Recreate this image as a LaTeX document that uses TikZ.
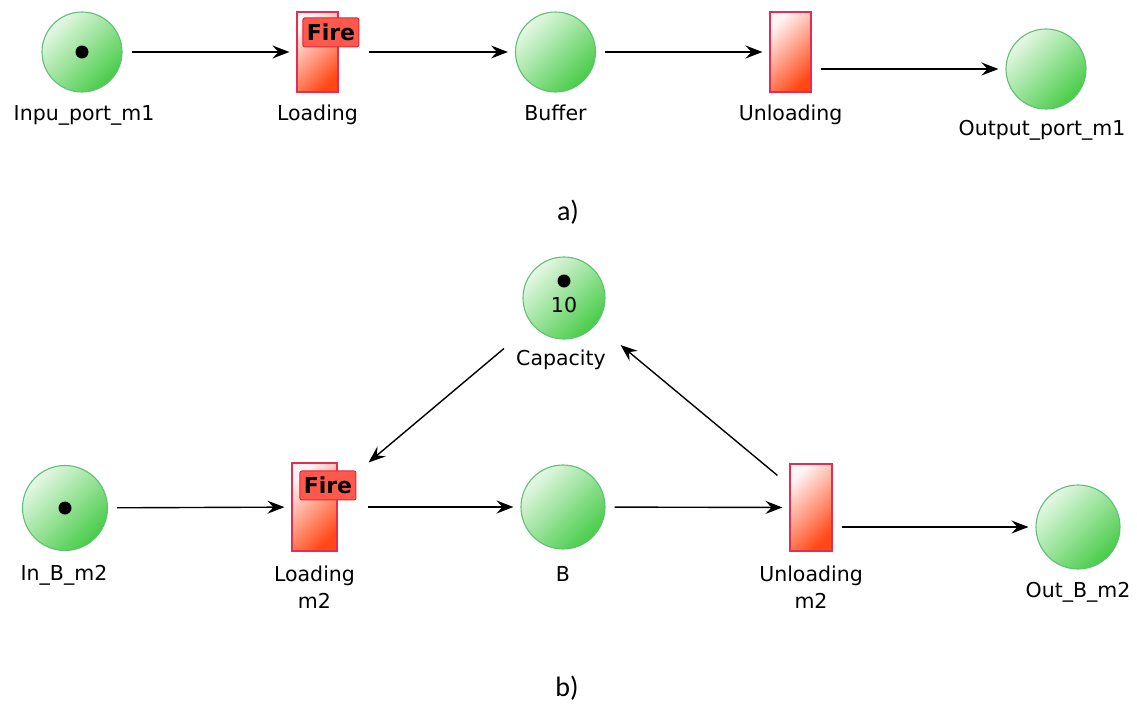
\documentclass[tikz,border=0pt]{standalone}
\usepackage{fontspec}
\setmainfont{DejaVu Sans}
\newfontfamily\tagfont{Carlito}
\usetikzlibrary{arrows.meta}
\usetikzlibrary{calc}

\definecolor{placelite}{RGB}{230,248,230}
\definecolor{placedark}{RGB}{72,204,72}
\definecolor{placeedge}{RGB}{95,192,118}
\definecolor{translite}{RGB}{255,244,244}
\definecolor{transdark}{RGB}{255,72,22}
\definecolor{transedge}{RGB}{228,45,85}
\definecolor{firefill}{RGB}{255,88,76}
\definecolor{fireedge}{RGB}{222,40,62}

\tikzset{
  place/.style={shape=circle, draw=placeedge, line width=1.1pt, top color=placelite, bottom color=placedark, shading angle=45, inner sep=0pt},
  trans/.style={shape=rectangle, draw=transedge, line width=1.1pt, top color=translite, bottom color=transdark, shading angle=45, inner sep=0pt},
  firebox/.style={shape=rectangle, draw=fireedge, fill=firefill, line width=1pt, rounded corners=2pt, minimum width=56pt, minimum height=29pt, inner sep=0pt, anchor=north west, font=\fontsize{22}{26}\selectfont\bfseries},
  token/.style={shape=circle, fill=black, inner sep=0pt, minimum size=13pt},
  lbl/.style={font=\fontsize{20.5}{27}\selectfont, inner sep=0pt, anchor=base, align=center},
  tag/.style={font=\tagfont\fontsize{28}{32}\selectfont, inner sep=0pt},
  arc/.style={-{Stealth[length=17pt,width=13pt,inset=6pt]}, line width=1.4pt, shorten <=9pt, shorten >=7pt}
}

% name, x, y, size, label x, label y, label
\newcommand{\pnplace}[7]{\node[place, minimum size=#4] (#1) at (#2,#3) {};
  \node[lbl] (#1lbl) at (#5,#6) {#7};}
% name, x, y, width, height, label y, label
\newcommand{\pntrans}[7]{\node[trans, minimum width=#4, minimum height=#5] (#1) at (#2,#3) {};
  \node[lbl] (#1lbl) at (#2,#6) {#7};}

\begin{document}
\begin{tikzpicture}[x=1pt, y=-1pt]
        \useasboundingbox (0,0) rectangle (1137,715);

        % net a
        \pnplace{in1}{82}{52}{80pt}{84}{120}{Inpu\_port\_m1}
        \pntrans{load1}{317.5}{52}{41pt}{80pt}{120}{Loading}
        \pnplace{buf}{555.5}{52}{80pt}{555.5}{120}{Buffer}
        \pntrans{unl1}{790.5}{52}{41pt}{80pt}{120}{Unloading}
        \pnplace{out1}{1046}{69}{80pt}{1042}{135}{Output\_port\_m1}
        \node[token] (tok1) at (in1) {};
        \node[firebox] (fire1) at ([shift={(6,6)}]load1.north west) {Fire};

        \draw[arc] (in1) -- (load1);
        \draw[arc, shorten <=30pt] (load1) -- (buf);
        \draw[arc] (buf) -- (unl1);
        \draw[arc] (unl1.east |- out1.west) -- (out1.west);

        \node[tag] (taga) at (568,212) {a)};

        % net b
        \pnplace{cap}{564}{298}{82pt}{561}{365}{Capacity}
        \pnplace{in2}{65}{508}{85pt}{64}{580}{In\_B\_m2}
        \pntrans{load2}{314.5}{507}{45pt}{88pt}{608}{Loading\\m2}
        \pnplace{b}{563}{507}{84pt}{563}{581}{B}
        \pntrans{unl2}{811}{507.5}{42pt}{87pt}{608}{Unloading\\m2}
        \pnplace{out2}{1078}{527}{84pt}{1078}{597}{Out\_B\_m2}
        \node[token] (tok2) at (in2) {};
        \node[token] (tok3) at (564,281) {};
        \node[lbl, anchor=center] (cnt3) at (564,305) {10};
        \node[firebox] (fire2) at ([shift={(8,8)}]load2.north west) {Fire};

        \draw[arc] (in2) -- (load2);
        \draw[arc, shorten <=30pt] (load2) -- (b);
        \draw[arc] (b) -- (unl2);
        \draw[arc] (unl2.east |- out2.west) -- (out2.west);

        % capacity loop
        \coordinate (load2tip) at ([shift={(31,0)}]load2.north east);
        \coordinate (unl2tail) at ([shift={(-12,12)}]unl2.north west);
        \draw[arc, shorten <=37pt, shorten >=0pt] (cap) -- (load2tip);
        \draw[arc, shorten <=0pt, shorten >=32pt] (unl2tail) -- (cap);

        \node[tag] (tagb) at (567,688) {b)};

    \end{tikzpicture}
\end{document}
